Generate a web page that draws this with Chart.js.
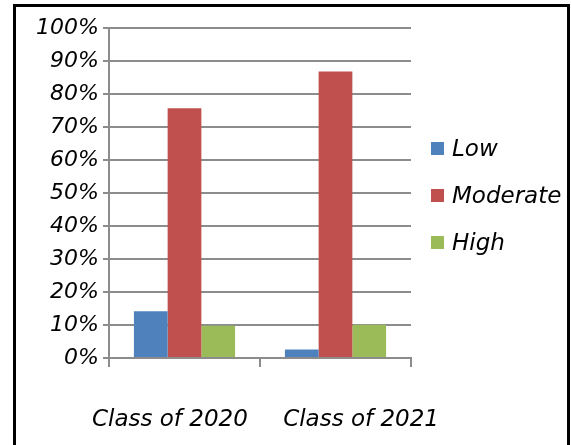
<!DOCTYPE html>
<html>
<head>
<meta charset="utf-8">
<script src="https://cdn.jsdelivr.net/npm/chart.js@4.4.1/dist/chart.umd.min.js"></script>
<style>
  html, body { margin: 0; padding: 0; background: #fff; overflow: hidden; }
  #wrap { position: relative; width: 571px; height: 445px; }
  #frame { position: absolute; left: 13px; top: 4px; width: 557px; height: 470px;
           border: 3px solid #000; box-sizing: border-box; pointer-events: none; }
  #legend { position: absolute; left: 431px; top: 137px; font: italic 23px "DejaVu Sans", sans-serif; color: #000; }
  .item { display: flex; align-items: center; height: 22px; margin-bottom: 25px; white-space: nowrap; }
  .box { width: 13px; height: 13px; margin-right: 8px; }
</style>
</head>
<body>
<div id="wrap">
  <canvas id="chart"></canvas>
  <div id="legend"></div>
  <div id="frame"></div>
</div>
<script>
// values (percent)
const categories = ['Class of 2020', 'Class of 2021'];
const seriesNames = ['Low', 'Moderate', 'High'];
const lowValues = [14.2, 2.6];
const moderateValues = [75.7, 86.8];
const highValues = [9.8, 10.1];
const seriesColors = ['#4f81bd', '#c0504d', '#9bbb59'];

const gridColor = '#8c8c8c';

Chart.defaults.font.family = '"DejaVu Sans", sans-serif';
Chart.defaults.font.size = 22;
Chart.defaults.font.style = 'italic';
Chart.defaults.color = '#000';

const seriesValues = [lowValues, moderateValues, highValues];
const datasets = seriesNames.map((name, i) => ({
  label: name,
  data: seriesValues[i],
  backgroundColor: seriesColors[i],
  borderWidth: 0
}));

// labels sit a little off-centre in the original
const labelPad = ['    ', '       '];

const ctx = document.getElementById('chart').getContext('2d');
const chart = new Chart(ctx, {
  type: 'bar',
  data: { labels: categories, datasets: datasets },
  options: {
    responsive: true,
    maintainAspectRatio: false,
    animation: false,
    layout: { padding: { top: 28, right: 160, bottom: 0, left: 0 } },
    datasets: { bar: { categoryPercentage: 0.67, barPercentage: 1 } },
    plugins: {
      legend: { display: false },
      tooltip: { enabled: false }
    },
    scales: {
      x: {
        grid: { drawOnChartArea: false, drawTicks: true, tickLength: 9, color: gridColor, lineWidth: 2, offset: true },
        border: { color: gridColor, width: 2 },
        ticks: {
          padding: 39,
          maxRotation: 0,
          autoSkip: false,
          font: { size: 23 },
          callback: (v, i) => i === 0 ? categories[i] + labelPad[0] : labelPad[1] + categories[i]
        },
        afterFit: s => { s.height = 87; }
      },
      y: {
        min: 0,
        max: 100,
        grid: { color: gridColor, lineWidth: 2, tickLength: 6 },
        border: { color: gridColor, width: 2 },
        ticks: { stepSize: 10, padding: 4, callback: v => v + '%' },
        afterFit: s => { s.width = 109; }
      }
    }
  }
});

// legend
const legend = document.getElementById('legend');
chart.data.datasets.forEach(ds => {
  const item = document.createElement('div');
  item.className = 'item';
  const box = document.createElement('span');
  box.className = 'box';
  box.style.background = ds.backgroundColor;
  item.appendChild(box);
  item.appendChild(document.createTextNode(ds.label));
  legend.appendChild(item);
});
</script>
</body>
</html>
